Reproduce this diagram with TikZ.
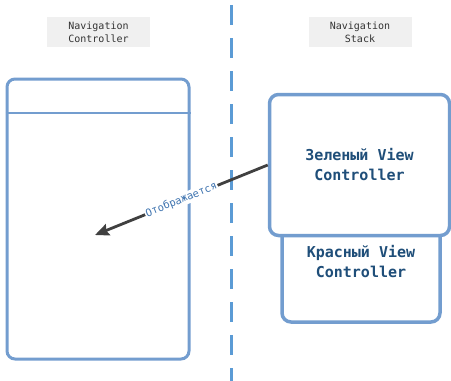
\documentclass[tikz,border=0pt]{standalone}
\usepackage{fontspec}
\setmonofont{DejaVu Sans Mono}
\usetikzlibrary{arrows.meta}
\definecolor{boxline}{HTML}{739DCF}
\definecolor{dashblue}{HTML}{5B9BD5}
\definecolor{txtblue}{HTML}{1F4E79}
\definecolor{lblblue}{HTML}{3F74B0}
\definecolor{hdrgray}{HTML}{F0F0F0}
\definecolor{arrowgray}{HTML}{404040}
\tikzset{
  header/.style={fill=hdrgray, draw=none, minimum width=103pt, minimum height=30pt,
    align=center, font=\ttfamily\fontsize{10}{13}\selectfont, text=black!80, inner sep=0pt},
  vctext/.style={align=center, inner sep=0pt, text=txtblue, font=\ttfamily\bfseries\fontsize{15}{20}\selectfont},
  vcbox/.style={draw=boxline, fill=white, line width=3.5pt, rounded corners=9pt, vctext},
  ctrlbox/.style={draw=boxline, line width=3pt, rounded corners=8pt, inner sep=0pt},
  shows/.style={draw=arrowgray, line width=2.8pt, -{Stealth[length=14pt,width=12pt,inset=2pt]}},
  showlabel/.style={fill=white, inner sep=1pt, text=lblblue, font=\ttfamily\fontsize{10.5}{12}\selectfont, sloped},
}
\begin{document}
\begin{tikzpicture}[x=1pt,y=-1pt]
\useasboundingbox (0,0) rectangle (451,381);
% divider
\draw[dashblue, line width=3pt, dash pattern=on 20pt off 13pt] (231,5) -- (231,381);
% headers
\node[header] (hnc) at (98.5,32) {Navigation\\Controller};
\node[header] (hns) at (360,32) {Navigation\\Stack};
% navigation controller
\node[ctrlbox, minimum width=182pt, minimum height=280pt] (nc) at (98,219) {};
\draw[boxline, line width=2.5pt] (nc.west |- 0,113) -- (nc.east |- 0,113);
% stack
\node[vcbox, minimum width=158pt, minimum height=97pt,
  label={[vctext, yshift=11.5pt]center:{Красный View\\Controller}}] (red) at (361,273.5) {};
\node[vcbox, minimum width=180pt, minimum height=141pt] (green) at (359.5,165) {Зеленый View\\Controller};
% arrow
\coordinate (target) at (95,235);
\draw[shows] (green.west) -- node[showlabel, pos=0.5] {Отображается} (target);
\end{tikzpicture}
\end{document}
